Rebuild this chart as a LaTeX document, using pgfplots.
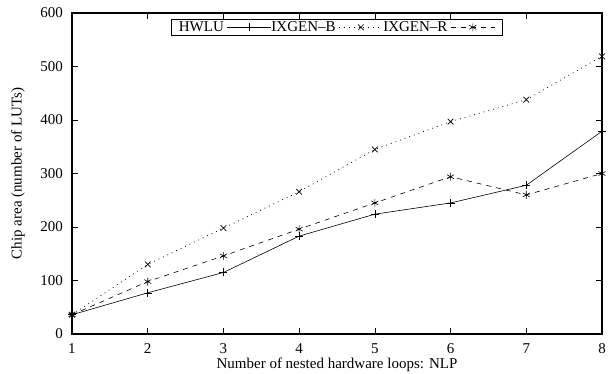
\documentclass[border=0pt]{standalone}
\usepackage{pgfplots}
\pgfplotsset{compat=1.18}
\usepackage{fontspec}
\setmainfont{Liberation Serif}
\begin{document}
\fontsize{15}{17}\selectfont
\begin{tikzpicture}
\path[use as bounding box] (0,0) rectangle (608pt,373pt);
\begin{axis}[
  at={(72pt,39pt)}, anchor=south west,
  scale only axis, width=530pt, height=321pt,
  xmin=1, xmax=8, ymin=0, ymax=600,
  xtick={1,...,8}, ytick={0,100,...,600},
  tick align=inside, major tick length=6pt,
  axis line style={line width=1.1pt},
  tick style={line width=0.7pt, black},
  /pgf/number format/assume math mode=true,
  tick label style={font=\fontsize{15}{17}\selectfont},
  yticklabel style={anchor=east, xshift=-4pt},
  xticklabel style={anchor=base, yshift=-19pt},
  xlabel={Number of nested hardware loops: NLP},
  ylabel={Chip area (number of LUTs)},
  label style={font=\fontsize{15}{17}\selectfont},
  every axis x label/.style={at={(axis description cs:0.5,0)}, anchor=base, yshift=-34pt},
  every axis y label/.style={at={(axis description cs:0,0.5)}, anchor=center, rotate=90, yshift=54pt},
  legend plot pos=right,
  legend columns=-1,
  legend style={at={(0.5,1)}, anchor=north, yshift=-6pt, draw=black, line width=0.7pt,
    inner xsep=7.5pt, inner ysep=1pt, font=\fontsize{15}{14}\selectfont,
    nodes={inner sep=0pt, text height=0.72em, text depth=0.2em},
    /tikz/every odd column/.append style={column sep=3pt},
    /tikz/every even column/.append style={column sep=0pt}},
  legend image code/.code={\draw[#1, mark repeat=2, mark phase=2] plot coordinates {(0pt,0pt) (22pt,0pt) (44pt,0pt)};},
]
\addplot[black, line width=0.6pt, mark=+, mark size=4pt, mark options={solid}] coordinates {
(1,36) (2,77) (3,115) (4,183) (5,224) (6,245) (7,278) (8,379)};
\addlegendentry{HWLU}
\addplot[black, line width=0.7pt, dash pattern=on 0.9pt off 4pt, mark=x, mark size=4pt, mark options={solid}] coordinates {
(1,36) (2,130) (3,198) (4,266) (5,345) (6,397) (7,438) (8,519)};
\addlegendentry{IXGEN–B}
\addplot[black, line width=0.6pt, dash pattern=on 5pt off 5pt, mark=asterisk, mark size=4pt, mark options={solid}] coordinates {
(1,36) (2,98) (3,146) (4,196) (5,245) (6,294) (7,260) (8,300)};
\addlegendentry{IXGEN–R}
\end{axis}
\end{tikzpicture}
\end{document}
